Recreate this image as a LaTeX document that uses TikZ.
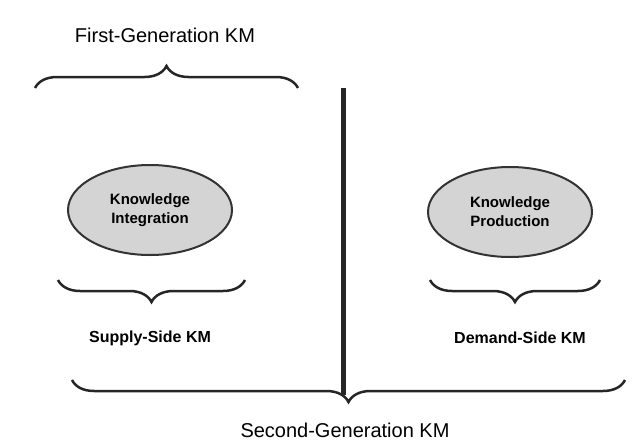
\documentclass[tikz,border=0pt]{standalone}
\usepackage{fontspec}
\setmainfont{Liberation Sans}
\usetikzlibrary{decorations.pathreplacing,shapes.geometric}
\begin{document}
\begin{tikzpicture}[x=1pt,y=-1pt,
  br/.style={draw=black!85,line width=2.5pt,decorate,decoration={brace,amplitude=22pt}},
  brm/.style={br,decoration={brace,mirror,amplitude=22pt}},
  ell/.style={draw=black!80,line width=2pt,fill=black!17,ellipse,minimum width=164pt,minimum height=90pt,align=center,font=\bfseries\fontsize{15}{19}\selectfont},
  lbl/.style={font=\fontsize{20}{24}\selectfont},
  slbl/.style={font=\bfseries\fontsize{16}{18}\selectfont}]
\useasboundingbox (0,0) rectangle (640,445);
\node[lbl] (fg) at (165,35) {First-Generation KM};
\coordinate (t1) at (35,88); \coordinate (t2) at (298,88);
\draw[br] (t1) -- (t2);
\coordinate (v1) at (343,88); \coordinate (v2) at (343,395);
\draw[line width=5pt,black!85] (v1) -- (v2);
\node[ell] (ki) at (150,210) {Knowledge\\Integration};
\node[ell] (kp) at (510,212) {Knowledge\\Production};
\coordinate (l1) at (58,280); \coordinate (l2) at (245,280);
\draw[brm] (l1) -- (l2);
\coordinate (r1) at (430,280); \coordinate (r2) at (600,280);
\draw[brm] (r1) -- (r2);
\node[slbl] (ss) at (150,338) {Supply-Side KM};
\node[slbl] (ds) at (520,338) {Demand-Side KM};
\coordinate (b1) at (72,380); \coordinate (b2) at (625,380);
\draw[brm] (b1) -- (b2);
\node[lbl] (sg) at (345,430) {Second-Generation KM};
\end{tikzpicture}
\end{document}
